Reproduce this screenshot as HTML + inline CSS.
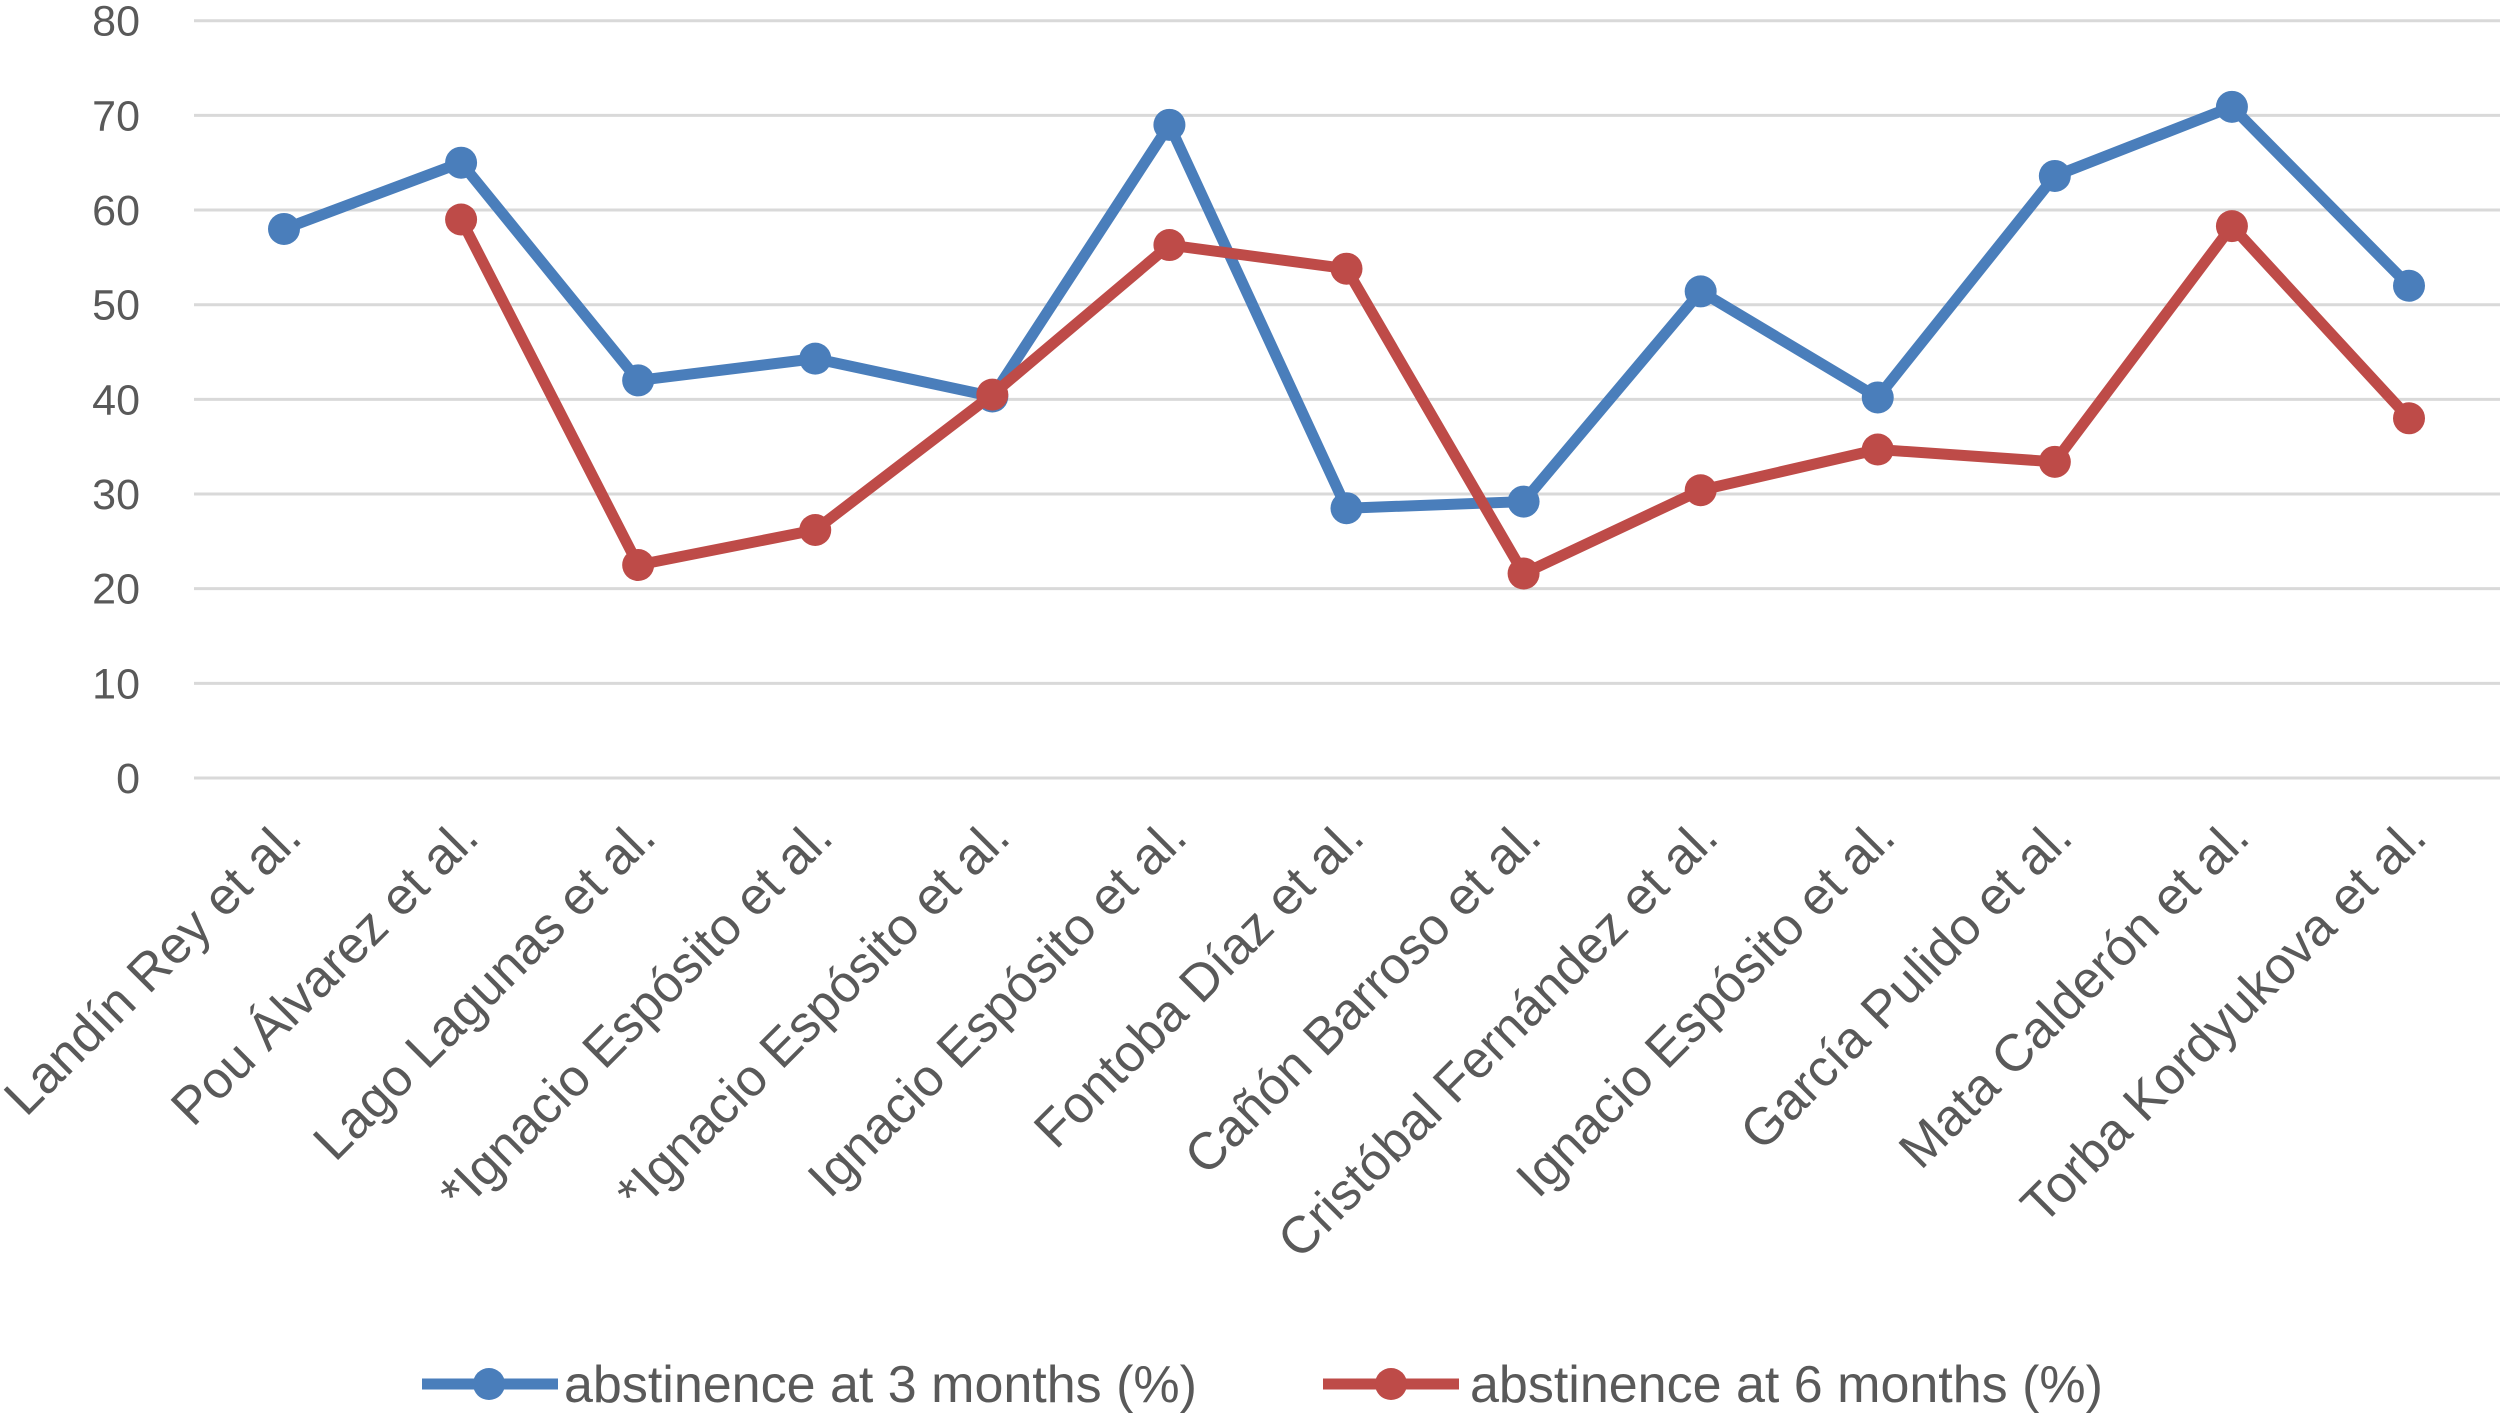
<!DOCTYPE html>
<html><head><meta charset="utf-8"><style>
html,body{margin:0;padding:0;background:#fff;}
svg{display:block;font-family:"Liberation Sans","DejaVu Sans",sans-serif;}
</style></head><body>
<svg id="chart" width="2500" height="1415" viewBox="0 0 2500 1415" xmlns="http://www.w3.org/2000/svg">
<g id="grid"></g>
<g id="yticks"></g>
<g id="xticks"></g>
<g id="series"></g>
<g>
 <g>
  <line x1="422" y1="1384" x2="558" y2="1384" stroke="#4a7ebb" stroke-width="11"/>
  <circle cx="489" cy="1384" r="16" fill="#4a7ebb"/>
  <text x="564" y="1402" font-size="52" fill="#595959">abstinence at 3 months (%)</text>
 </g>
 <g>
  <line x1="1323" y1="1384" x2="1459" y2="1384" stroke="#be4b48" stroke-width="11"/>
  <circle cx="1391" cy="1384" r="16" fill="#be4b48"/>
  <text x="1470" y="1402" font-size="52" fill="#595959">abstinence at 6 months (%)</text>
 </g>
</g>
</svg>
<script>
const categories = ["Landín Rey et al.","Pou Álvarez et al.","Lago Lagunas et al.","*Ignacio Espósito et al.","*Ignacio Espósito et al.","Ignacio Espósito et al.","Fontoba Díaz et al.","Cañón Barroso et al.","Cristóbal Fernández et al.","Ignacio Espósito et al.","García Pulido et al.","Mata Calderón et al.","Torba Kordyukova et al."];
const months3 = [58,65,42,44.3,40.3,69,28.5,29.2,51.4,40.2,63.6,70.9,52];
const months6 = [null,59,22.5,26.2,40.5,56.3,53.8,21.6,30.4,34.7,33.4,58.3,38];
const yTicks = [0,10,20,30,40,50,60,70,80];

const NS="http://www.w3.org/2000/svg";
const x0=284, x1=2409, yBase=778, yTop=20.7, yMax=80;
function xs(i){return x0+(x1-x0)*i/(categories.length-1);}
function ys(v){return yBase-(yBase-yTop)*v/yMax;}
function mk(tag,attrs,parent){const e=document.createElementNS(NS,tag);for(const k in attrs)e.setAttribute(k,attrs[k]);parent.appendChild(e);return e;}

const grid=document.getElementById('grid'), yt=document.getElementById('yticks'), xt=document.getElementById('xticks'), ser=document.getElementById('series');
yTicks.forEach(v=>{
  const l=mk('line',{x1:194,x2:2500,y1:ys(v),y2:ys(v),stroke:'#d9d9d9','stroke-width':3},grid);
  
  
  const t=mk('text',{x:140,y:ys(v)+15,'text-anchor':'end','font-size':43,fill:'#595959'},yt);
  t.textContent=v;
  
  
});
categories.forEach((c,i)=>{
  const x=xs(i)+20, y=840;
  const t=mk('text',{x:x,y:y,'text-anchor':'end','font-size':52,fill:'#595959',transform:`rotate(-45 ${x} ${y})`},xt);
  t.textContent=c;
  
  
});
function drawSeries(vals,color,name){
  const g=mk('g',{},ser);
  
  
  let d='';vals.forEach((v,i)=>{if(v==null)return;d+=(d?'L':'M')+xs(i)+' '+ys(v);});
  const p=mk('path',{d:d,fill:'none',stroke:color,'stroke-width':11,'stroke-linejoin':'round'},g);
  
  
  vals.forEach((v,i)=>{if(v==null)return;
    const c=mk('circle',{cx:xs(i),cy:ys(v),r:16,fill:color},g);
    
    
  });
}
drawSeries(months3,'#4a7ebb','series-3-months');
drawSeries(months6,'#be4b48','series-6-months');
</script>
</body></html>
